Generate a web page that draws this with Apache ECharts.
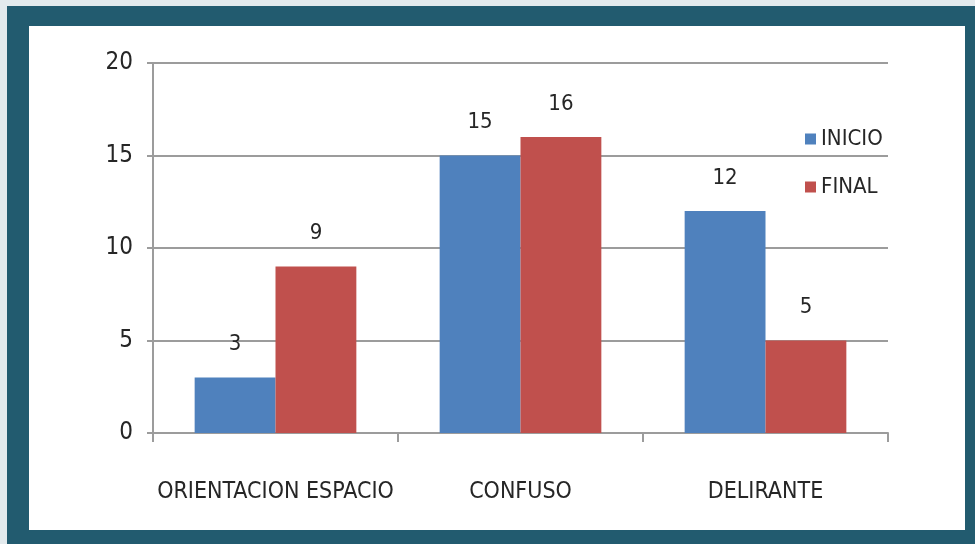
<!DOCTYPE html>
<html>
<head>
<meta charset="utf-8">
<script src="https://cdn.jsdelivr.net/npm/echarts@6/dist/echarts.min.js"></script>
<style>
  html, body { margin: 0; padding: 0; background: #e3eaed; }
  #frame { position: absolute; left: 7px; top: 6px; width: 968px; height: 538px; background: #225b6f; }
  #chart { position: absolute; left: 22px; top: 20px; width: 936px; height: 504px; background: #ffffff; }
</style>
</head>
<body>
<div id="frame"><div id="chart"></div></div>
<script>
const categories = ['ORIENTACION ESPACIO', 'CONFUSO', 'DELIRANTE']
const inicio = [3, 15, 12]
const final = [9, 16, 5]
const seriesNames = ['INICIO', 'FINAL']
const colors = ['#4f81bd', '#c0504d']

const font = "'Liberation Sans Narrow', 'DejaVu Sans Condensed', sans-serif"
const textColor = '#262626'
const lineColor = '#9c9c9c'

const chart = echarts.init(document.getElementById('chart'), null, { renderer: 'canvas' })

const barLabel = {
  show: true,
  position: 'top',
  distance: 22,
  color: textColor,
  fontFamily: font,
  fontSize: 22
}

chart.setOption({
  animation: false,
  color: colors,
  textStyle: { fontFamily: font },
  grid: { left: 124, right: 77, top: 37, bottom: 97 },
  legend: {
    orient: 'vertical',
    left: 771,
    top: 97,
    itemWidth: 11,
    itemHeight: 11,
    itemGap: 26,
    icon: 'rect',
    textStyle: { color: textColor, fontFamily: font, fontSize: 22 },
    data: seriesNames
  },
  xAxis: {
    type: 'category',
    data: categories,
    axisLine: { lineStyle: { color: lineColor, width: 2 } },
    axisTick: { show: true, interval: 0, length: 9, lineStyle: { color: lineColor, width: 2 } },
    axisLabel: { interval: 0, color: textColor, fontFamily: font, fontSize: 23, margin: 48 }
  },
  yAxis: {
    type: 'value',
    min: 0,
    max: 20,
    interval: 5,
    axisLine: { show: true, lineStyle: { color: lineColor, width: 2 } },
    axisTick: { show: true, length: 6, lineStyle: { color: lineColor, width: 2 } },
    axisLabel: { color: textColor, fontFamily: font, fontSize: 24, margin: 20 },
    splitLine: { lineStyle: { color: lineColor, width: 2 } }
  },
  series: [
    {
      name: seriesNames[0],
      type: 'bar',
      data: inicio,
      barGap: '0%',
      barCategoryGap: '34%',
      label: barLabel
    },
    {
      name: seriesNames[1],
      type: 'bar',
      data: final,
      barGap: '0%',
      barCategoryGap: '34%',
      label: barLabel
    }
  ]
})
</script>
</body>
</html>
